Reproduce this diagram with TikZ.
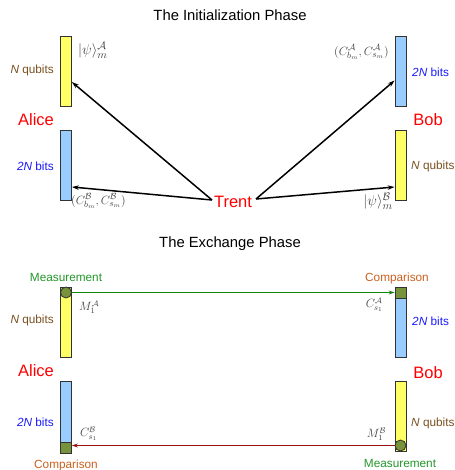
\documentclass[tikz,border=0pt]{standalone}
\usepackage{fontspec}
\setmainfont{Liberation Sans}
\usetikzlibrary{arrows.meta}
\definecolor{barY}{HTML}{FFFF66}
\definecolor{barB}{HTML}{99CCFF}
\definecolor{sqG}{HTML}{77933C}
\definecolor{txtBrown}{HTML}{7A5020}
\definecolor{txtBlue}{HTML}{1A1AFF}
\definecolor{txtGreen}{HTML}{23962A}
\definecolor{txtOrange}{HTML}{C8601E}
\definecolor{arrGreen}{HTML}{14820F}
\definecolor{arrRed}{HTML}{9A0F0F}
\definecolor{mathGrey}{HTML}{404040}
\tikzset{
  bar/.style={draw=black!80, line width=0.8pt, minimum width=11pt, inner sep=0pt},
  ybar/.style={bar, fill=barY},
  bbar/.style={bar, fill=barB},
  gsq/.style={draw=black!80, line width=0.8pt, fill=sqG, minimum width=11pt, minimum height=11pt, inner sep=0pt},
  gcirc/.style={draw=black!80, line width=0.8pt, fill=sqG, circle, minimum size=11pt, inner sep=0pt},
  title/.style={font=\fontsize{14.8}{16}\selectfont, inner sep=0pt},
  who/.style={font=\fontsize{16.5}{18}\selectfont, text=red, inner sep=0pt},
  lbl/.style={font=\fontsize{11.8}{13}\selectfont, inner sep=0pt},
  qlbl/.style={lbl, text=txtBrown},
  blbl/.style={lbl, text=txtBlue},
  mlbl/.style={lbl, text=txtGreen},
  clbl/.style={lbl, text=txtOrange},
  mth/.style={font=\fontsize{12}{14}\selectfont, text=mathGrey, inner sep=0pt},
  pmth/.style={mth, font=\fontsize{13}{15}\selectfont},
  psimth/.style={mth, font=\fontsize{15}{17}\selectfont},
  sendarr/.style={-{Stealth[length=7pt,width=4.5pt]}, line width=1.5pt, black},
  xarr/.style={-{Stealth[length=6pt,width=4pt]}, line width=1.3pt},
}
\begin{document}
\begin{tikzpicture}[x=1pt,y=-1pt]
\useasboundingbox (0,0) rectangle (454,470);
% ---------- Initialization phase ----------
\node[title] (t1) at (230,15) {The Initialization Phase};
\node[ybar, minimum height=70pt] (ay1) at (66,71) {};
\node[bbar, minimum height=70pt] (ab1) at (66,165) {};
\node[bbar, minimum height=70pt] (bb1) at (400.5,71.5) {};
\node[ybar, minimum height=70pt] (by1) at (400.5,165) {};
\node[qlbl, anchor=east] (aq1) at (54,70) {\textit{N} qubits};
\node[who] (alice1) at (36,120) {Alice};
\node[blbl, anchor=east] (abits1) at (54,166) {\textit{2N} bits};
\node[blbl, anchor=west] (bbits1) at (412,72) {\textit{2N} bits};
\node[who] (bob1) at (428,120) {Bob};
\node[qlbl, anchor=west] (bq1) at (411,166) {\textit{N} qubits};
\node[psimth, anchor=west] (psiA) at (78,50) {$|\psi\rangle_m^{\mathcal{A}}$};
\node[pmth, anchor=west] (cB) at (71,201) {$(C^{\mathcal{B}}_{b_m},C^{\mathcal{B}}_{s_m})$};
\node[pmth, anchor=east] (cA) at (389,52) {$(C^{\mathcal{A}}_{b_m},C^{\mathcal{A}}_{s_m})$};
\node[psimth, anchor=east] (psiB) at (393,201) {$|\psi\rangle_m^{\mathcal{B}}$};
\node[who] (trent) at (233,202) {Trent};
\coordinate (tl) at (212,200);
\coordinate (tr) at (256,199);
\draw[sendarr] (tl) -- ([yshift=-11pt]ay1.east);
\draw[sendarr] (tl) -- ([yshift=-22pt]ab1.east);
\draw[sendarr] (tr) -- ([yshift=-9pt]bb1.west);
\draw[sendarr] (tr) -- ([yshift=-22pt]by1.west);
% ---------- Exchange phase ----------
\node[title] (t2) at (230,244) {The Exchange Phase};
\node[ybar, minimum height=70pt] (ay2) at (66,322) {};
\node[bbar, minimum height=72pt] (ab2) at (66,417) {};
\node[bbar, minimum height=70pt] (bb2) at (400.5,322) {};
\node[ybar, minimum height=70pt] (by2) at (400.5,416) {};
\node[gcirc] (amc) at (66,292.5) {};
\node[gsq] (acs) at (66,447.5) {};
\node[gsq] (bcs) at (400.5,292.5) {};
\node[gcirc] (bmc) at (400.5,445.5) {};
\node[mlbl] (ameas) at (66,277) {Measurement};
\node[qlbl, anchor=east] (aq2) at (54,320) {\textit{N} qubits};
\node[who] (alice2) at (36,371) {Alice};
\node[blbl, anchor=east] (abits2) at (54,422) {\textit{2N} bits};
\node[clbl] (acomp) at (66,465) {Comparison};
\node[clbl] (bcomp) at (397,278) {Comparison};
\node[blbl, anchor=west] (bbits2) at (412,321) {\textit{2N} bits};
\node[who] (bob2) at (428,373) {Bob};
\node[qlbl, anchor=west] (bq2) at (411,423) {\textit{N} qubits};
\node[mlbl] (bmeas) at (400,463) {Measurement};
\node[mth, anchor=west] (m1a) at (79,307) {$M_1^{\mathcal{A}}$};
\node[mth, anchor=west] (cs1b) at (80,434) {$C^{\mathcal{B}}_{s_1}$};
\node[mth, anchor=east] (cs1a) at (383,305) {$C^{\mathcal{A}}_{s_1}$};
\node[mth, anchor=east] (m1b) at (386,434) {$M_1^{\mathcal{B}}$};
\draw[xarr, arrGreen] (amc.east) -- (bcs.west);
\draw[xarr, arrRed] (bmc.west) -- (bmc.west -| acs.east);
\end{tikzpicture}
\end{document}
